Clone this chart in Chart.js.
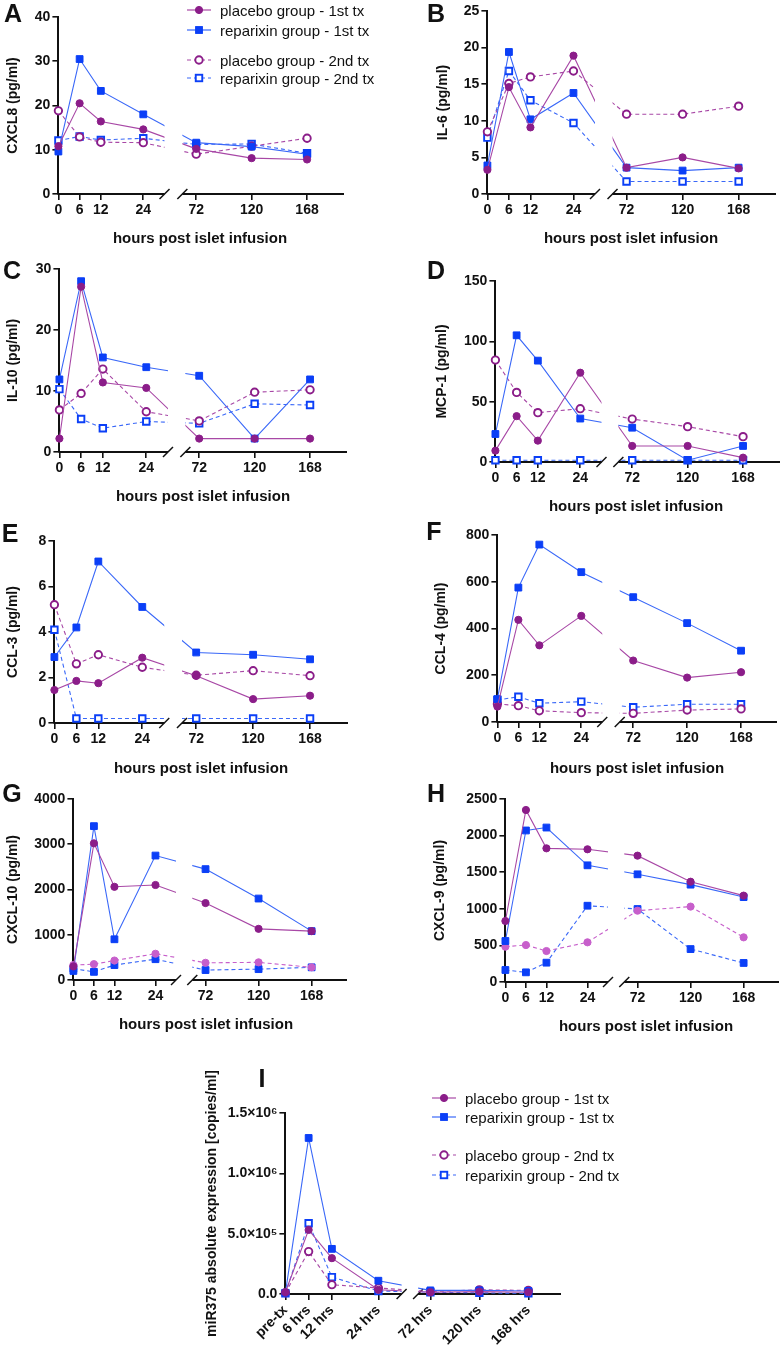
<!DOCTYPE html>
<html>
<head>
<meta charset="utf-8">
<script src="https://cdn.jsdelivr.net/npm/chart.js@4/dist/chart.umd.min.js"></script>
<style>
  body { margin: 0; background: #fff; }
  #page { position: relative; width: 780px; height: 1349px; overflow: hidden;
          font-family: "Liberation Sans", Arial, sans-serif; color: #111; }
  #page canvas { position: absolute; }
  .letter { position: absolute; font-weight: bold; font-size: 25px; transform: translate(-50%, -50%); }
  .xtitle { position: absolute; font-weight: bold; font-size: 15px; white-space: nowrap; transform: translate(-50%, -50%); }
  .leg { position: absolute; font-size: 15px; white-space: nowrap; transform: translateY(-50%); }
  .legmark { position: absolute; }
</style>
</head>
<body>
<div id="page"></div>
<script>
'use strict';

// shared x values / labels
const HOURS = [0, 6, 12, 24, 72, 120, 168];
const SERIES = ['placebo group - 1st tx', 'reparixin group - 1st tx', 'placebo group - 2nd tx', 'reparixin group - 2nd tx'];
const MIR375_TICKS = ['pre-tx', '6 hrs', '12 hrs', '24 hrs', '72 hrs', '120 hrs', '168 hrs'];
const X_TITLE = 'hours post islet infusion';

// A - CXCL8
const cxcl8Placebo1   = [10.8, 20.5, 16.4, 14.6, 10.2, 8.1, 7.8];
const cxcl8Reparixin1 = [9.6, 30.5, 23.3, 18.0, 11.6, 10.7, 9.0];
const cxcl8Placebo2   = [18.8, 12.9, 11.7, 11.6, 9.0, 10.8, 12.6];
const cxcl8Reparixin2 = [12.1, 13.0, 12.2, 12.6, 11.2, 11.3, 9.2];
// B - IL-6
const il6Placebo1   = [3.3, 14.6, 9.1, 18.9, 3.6, 5.0, 3.5];
const il6Reparixin1 = [3.9, 19.4, 10.2, 13.8, 3.6, 3.2, 3.6];
const il6Placebo2   = [8.5, 15.1, 16.0, 16.8, 10.9, 10.9, 12.0];
const il6Reparixin2 = [7.7, 16.8, 12.8, 9.7, 1.7, 1.7, 1.7];
// C - IL-10
const il10Placebo1   = [2.2, 27.1, 11.4, 10.5, 2.2, 2.2, 2.2];
const il10Reparixin1 = [11.9, 28.0, 15.5, 13.9, 12.5, 2.2, 11.9];
const il10Placebo2   = [6.9, 9.6, 13.6, 6.6, 5.1, 9.8, 10.2];
const il10Reparixin2 = [10.3, 5.4, 3.9, 5.0, 4.7, 7.9, 7.7];
// D - MCP-1
const mcp1Placebo1   = [9.4, 38, 17.7, 74, 13.3, 13.3, 3.6];
const mcp1Reparixin1 = [23.2, 105, 84, 36, 28.4, 1.5, 13.3];
const mcp1Placebo2   = [84.5, 57.7, 40.9, 44.2, 35.6, 29.3, 21];
const mcp1Reparixin2 = [1.5, 1.5, 1.5, 1.5, 1.5, 1.5, 1.5];
// E - CCL-3
const ccl3Placebo1   = [1.45, 1.85, 1.75, 2.87, 2.08, 1.05, 1.2];
const ccl3Reparixin1 = [2.9, 4.2, 7.1, 5.1, 3.1, 3.0, 2.8];
const ccl3Placebo2   = [5.2, 2.6, 3.0, 2.45, 2.1, 2.3, 2.08];
const ccl3Reparixin2 = [4.1, 0.2, 0.2, 0.2, 0.2, 0.2, 0.2];
// F - CCL-4
const ccl4Placebo1   = [66, 437, 328, 454, 263, 190, 213];
const ccl4Reparixin1 = [98, 575, 759, 641, 534, 423, 305];
const ccl4Placebo2   = [77, 70, 48, 40, 37, 51, 56];
const ccl4Reparixin2 = [94, 108, 80, 87, 63, 76, 76];
// G - CXCL-10
const cxcl10Placebo1   = [300, 3020, 2060, 2100, 1700, 1130, 1080];
const cxcl10Reparixin1 = [200, 3400, 900, 2750, 2450, 1800, 1080];
const cxcl10Placebo2   = [330, 350, 430, 580, 380, 390, 280];
const cxcl10Reparixin2 = [250, 180, 330, 460, 220, 240, 280];
// H - CXCL-9
const cxcl9Placebo1   = [833, 2350, 1826, 1813, 1726, 1370, 1180];
const cxcl9Reparixin1 = [560, 2070, 2110, 1594, 1471, 1330, 1160];
const cxcl9Placebo2   = [483, 505, 423, 542, 974, 1030, 610];
const cxcl9Reparixin2 = [164, 132, 264, 1042, 997, 450, 260];
// I - miR375
const mir375Placebo1   = [15000, 531000, 297000, 35000, 15000, 20000, 15000];
const mir375Reparixin1 = [10000, 1293000, 374000, 110000, 30000, 30000, 25000];
const mir375Placebo2   = [10000, 352000, 77000, 50000, 20000, 35000, 30000];
const mir375Reparixin2 = [5000, 586000, 140000, 25000, 15000, 10000, 5000];

const PURPLE = '#8b1d89', PURPLE_LINE = '#a848a6', PINK = '#c75fcb';
const BLUE = '#0b3ff7', BLUE_LINE = '#3a68f8';
const INK = '#111';
const FONT = '"Liberation Sans", Arial, sans-serif';

// broken axis: 0..30 h on the left, 60..200 h on the right
const LEFT_MAX = 30, RIGHT_MIN = 60, RIGHT_MAX = 200;
const PAD_R = 12;

Chart.defaults.font.family = FONT;
Chart.defaults.color = INK;

class BrokenScale extends Chart.LinearScale {
  getPixelForValue(value) {
    const b = this.options.brk;
    let dec;
    if (value <= LEFT_MAX) dec = value / LEFT_MAX * b.f1;
    else if (value >= RIGHT_MIN) dec = b.f2 + (value - RIGHT_MIN) / (this.max - RIGHT_MIN) * (1 - b.f2);
    else dec = b.f1 + (value - LEFT_MAX) / (RIGHT_MIN - LEFT_MAX) * (b.f2 - b.f1);
    return this.getPixelForDecimal(dec);
  }
}
BrokenScale.id = 'broken';
BrokenScale.defaults = Chart.LinearScale.defaults;
Chart.register(BrokenScale);

// axis segments, break slashes, and clipping of the gap
const brokenAxis = {
  id: 'brokenAxis',
  beforeDatasetsDraw(chart) {
    const { ctx, chartArea: a, scales: { x } } = chart;
    const gL = x.getPixelForValue(LEFT_MAX), gR = x.getPixelForValue(RIGHT_MIN);
    ctx.save();
    ctx.strokeStyle = INK;
    ctx.lineWidth = 2;
    ctx.beginPath();
    ctx.moveTo(a.left - 1, a.bottom); ctx.lineTo(gL, a.bottom);
    ctx.moveTo(gR, a.bottom); ctx.lineTo(a.right, a.bottom);
    ctx.stroke();
    ctx.lineWidth = 1.5;
    [gL, gR].forEach(px => {
      ctx.beginPath();
      ctx.moveTo(px - 5, a.bottom + 5);
      ctx.lineTo(px + 5, a.bottom - 5);
      ctx.stroke();
    });
    ctx.restore();
    ctx.save();
    ctx.beginPath();
    ctx.rect(a.left - 12, a.top - 12, gL - a.left + 12, a.bottom - a.top + 24);
    ctx.rect(gR, a.top - 12, a.right + 12 - gR, a.bottom - a.top + 24);
    ctx.clip();
  },
  afterDatasetsDraw(chart) { chart.ctx.restore(); }
};

function seriesStyle(i, filled2nd) {
  const placebo = i % 2 === 0;
  const first = i < 2;
  const solid = first || filled2nd;
  const mark = placebo ? (!first && filled2nd ? PINK : PURPLE) : BLUE;
  return {
    borderColor: placebo ? (!first && filled2nd ? PINK : PURPLE_LINE) : BLUE_LINE,
    borderWidth: 1.1,
    borderDash: first ? [] : [4, 3],
    pointStyle: placebo ? 'circle' : 'rect',
    pointRadius: placebo ? (solid ? 3.6 : 3.7) : (solid ? 4.8 : 4.6),
    pointBackgroundColor: solid ? mark : '#fff',
    pointBorderColor: mark,
    pointBorderWidth: solid ? 1 : 1.9,
  };
}

function sciLabel(v) {
  if (v === 0) return '0.0';
  const sup = { 5: '\u2075', 6: '\u2076' };
  const e = Math.floor(Math.log10(v));
  return (v / Math.pow(10, e)).toFixed(1) + '\u00d710' + sup[e];
}

const PANELS = [
  { id: 'A', title: 'CXCL8 (pg/ml)', values: [cxcl8Placebo1, cxcl8Reparixin1, cxcl8Placebo2, cxcl8Reparixin2],
    yMax: 40, step: 10, x0: 58, x24: 143, x72: 196, x168: 307, yTop: 17, yBot: 194, gap: 45, letter: [13, 13], xt: [200, 237] },
  { id: 'B', title: 'IL-6 (pg/ml)', values: [il6Placebo1, il6Reparixin1, il6Placebo2, il6Reparixin2],
    yMax: 25, step: 5, x0: 487, x24: 573, x72: 626, x168: 738, yTop: 11, yBot: 194, gap: 44, letter: [436, 13], xt: [631, 237] },
  { id: 'C', title: 'IL-10 (pg/ml)', values: [il10Placebo1, il10Reparixin1, il10Placebo2, il10Reparixin2],
    yMax: 30, step: 10, x0: 59, x24: 146, x72: 199, x168: 310, yTop: 269, yBot: 452, gap: 46, letter: [12, 270], xt: [203, 495] },
  { id: 'D', title: 'MCP-1 (pg/ml)', values: [mcp1Placebo1, mcp1Reparixin1, mcp1Placebo2, mcp1Reparixin2],
    yMax: 150, step: 50, x0: 495, x24: 580, x72: 632, x168: 743, yTop: 281, yBot: 462, gap: 53, letter: [436, 270], xt: [636, 505] },
  { id: 'E', title: 'CCL-3 (pg/ml)', values: [ccl3Placebo1, ccl3Reparixin1, ccl3Placebo2, ccl3Reparixin2],
    yMax: 8, step: 2, x0: 54, x24: 142, x72: 196, x168: 310, yTop: 541, yBot: 723, gap: 41, letter: [10, 533], xt: [201, 767] },
  { id: 'F', title: 'CCL-4 (pg/ml)', values: [ccl4Placebo1, ccl4Reparixin1, ccl4Placebo2, ccl4Reparixin2],
    yMax: 800, step: 200, x0: 497, x24: 581, x72: 633, x168: 741, yTop: 535, yBot: 722, gap: 56, letter: [434, 531], xt: [637, 767] },
  { id: 'G', title: 'CXCL-10 (pg/ml)', values: [cxcl10Placebo1, cxcl10Reparixin1, cxcl10Placebo2, cxcl10Reparixin2], filled2nd: true,
    yMax: 4000, step: 1000, x0: 73, x24: 155, x72: 205, x168: 311, yTop: 799, yBot: 980, gap: 60, letter: [12, 793], xt: [206, 1023] },
  { id: 'H', title: 'CXCL-9 (pg/ml)', values: [cxcl9Placebo1, cxcl9Reparixin1, cxcl9Placebo2, cxcl9Reparixin2], filled2nd: true,
    yMax: 2500, step: 500, x0: 505, x24: 587, x72: 637, x168: 743, yTop: 799, yBot: 982, gap: 65, letter: [436, 793], xt: [646, 1025] },
  { id: 'I', title: 'miR375 absolute expression [copies/ml]', values: [mir375Placebo1, mir375Reparixin1, mir375Placebo2, mir375Reparixin2],
    yMax: 1500000, step: 500000, x0: 285, x24: 378, x72: 430, x168: 528, yTop: 1113, yBot: 1294, gap: 73, letter: [262, 1078], xt: null, mir: true },
];

const page = document.getElementById('page');

function addDiv(cls, html, left, top) {
  const d = document.createElement('div');
  d.className = cls;
  d.innerHTML = html;
  d.style.left = left + 'px';
  d.style.top = top + 'px';
  page.appendChild(d);
  return d;
}

function makePanel(p) {
  const ppl = (p.x24 - p.x0) / 24, ppr = (p.x168 - p.x72) / 96;
  const xEnd = p.x168 + (RIGHT_MAX - 168) * ppr;
  const W = xEnd - p.x0;
  const f1 = LEFT_MAX * ppl / W;
  const f2 = (p.x72 - (72 - RIGHT_MIN) * ppr - p.x0) / W;
  const yw = p.gap + 8.4;
  const xh = p.mir ? 66 : 46;
  const padT = p.mir ? 60 : 12;   // room for the long rotated y title

  const canvas = document.createElement('canvas');
  canvas.width = Math.round(yw + W + PAD_R);
  canvas.height = Math.round(padT + (p.yBot - p.yTop) + xh);
  canvas.style.left = (p.x0 - yw) + 'px';
  canvas.style.top = (p.yTop - padT) + 'px';
  page.appendChild(canvas);

  const tickFont = { size: 14, weight: 'bold' };

  new Chart(canvas, {
    type: 'line',
    data: {
      datasets: SERIES.map((name, i) => ({
        label: name,
        data: HOURS.map((h, k) => ({ x: h, y: p.values[i][k] })),
        clip: false,
        ...seriesStyle(i, p.filled2nd),
      })),
    },
    options: {
      responsive: false,
      animation: false,
      events: [],
      layout: { padding: { left: 0, right: PAD_R, top: padT, bottom: 0 } },
      plugins: { legend: { display: false }, tooltip: { enabled: false } },
      scales: {
        x: {
          type: 'broken',
          min: 0,
          max: RIGHT_MAX,
          brk: { f1, f2 },
          afterBuildTicks: s => { s.ticks = HOURS.map(v => ({ value: v })); },
          afterFit: s => { s.height = xh; },
          border: { display: false },
          grid: { drawOnChartArea: false, drawTicks: true, tickLength: 6, color: INK, lineWidth: 1.6 },
          ticks: {
            autoSkip: false,
            maxRotation: p.mir ? 45 : 0,
            minRotation: p.mir ? 45 : 0,
            padding: 2,
            color: INK,
            font: tickFont,
            callback: (v, i) => p.mir ? MIR375_TICKS[i] : String(v),
          },
        },
        y: {
          min: 0,
          max: p.yMax,
          afterFit: s => { s.width = yw; },
          border: { color: INK, width: 2 },
          grid: { drawOnChartArea: false, drawTicks: true, tickLength: 6, color: INK, lineWidth: 1.6 },
          ticks: {
            stepSize: p.step,
            padding: 2,
            color: INK,
            font: tickFont,
            callback: v => p.mir ? sciLabel(v) : String(v),
          },
          title: { display: true, text: p.title, color: INK, padding: 0, font: { size: 14, weight: 'bold' } },
        },
      },
    },
    plugins: [brokenAxis],
  });

  addDiv('letter', p.id, p.letter[0], p.letter[1]);
  if (p.xt) addDiv('xtitle', X_TITLE, p.xt[0], p.xt[1]);
}

function legendSample(i) {
  const st = seriesStyle(i, false);
  const w = 24, cy = 8, cx = w / 2;
  const dash = st.borderDash.length ? 'stroke-dasharray="4 3"' : '';
  let mark;
  if (st.pointStyle === 'circle') {
    mark = `<circle cx="${cx}" cy="${cy}" r="${st.pointRadius}" fill="${st.pointBackgroundColor}" stroke="${st.pointBorderColor}" stroke-width="${st.pointBorderWidth}"/>`;
  } else {
    const s = st.pointRadius * Math.SQRT2;
    mark = `<rect x="${cx - s / 2}" y="${cy - s / 2}" width="${s}" height="${s}" fill="${st.pointBackgroundColor}" stroke="${st.pointBorderColor}" stroke-width="${st.pointBorderWidth}"/>`;
  }
  return `<svg width="${w}" height="16"><line x1="0" y1="${cy}" x2="${w}" y2="${cy}" stroke="${st.borderColor}" stroke-width="1.2" ${dash}/>${mark}</svg>`;
}

function makeLegend(lineX, textX, rows) {
  SERIES.forEach((name, i) => {
    addDiv('legmark', legendSample(i), lineX, rows[i] - 8);
    addDiv('leg', name, textX, rows[i]);
  });
}

PANELS.forEach(makePanel);
makeLegend(187, 220, [10, 29.5, 60, 77.5]);
makeLegend(432, 465, [1098, 1117, 1155, 1175]);
</script>
</body>
</html>
